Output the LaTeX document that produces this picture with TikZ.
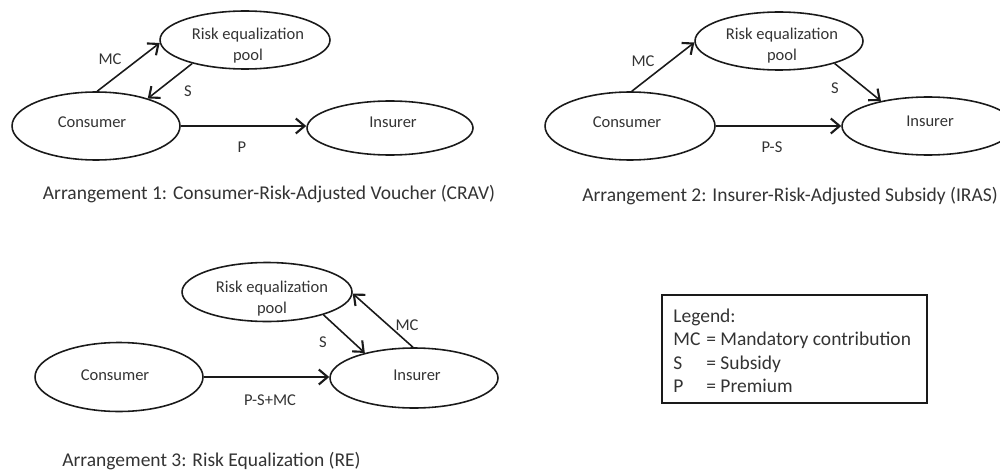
\documentclass[tikz,border=0pt]{standalone}
\usepackage{fontspec}
\setmainfont{Carlito}
\usetikzlibrary{shapes.geometric,arrows.meta}
\definecolor{ink}{HTML}{1A1A1A}
\definecolor{txt}{HTML}{333333}
\begin{document}
\begin{tikzpicture}[x=0.02cm,y=-0.02cm,
  oval/.style={ellipse, draw=ink, line width=0.9pt, inner sep=0pt},
  lbl/.style={text=txt, font=\fontsize{9.4}{11.5}\selectfont, inner sep=0pt, anchor=base},
  captxt/.style={text=txt, font=\fontsize{11.1}{13}\selectfont, inner sep=0pt, anchor=base},
  flow/.style={draw=ink, line width=0.9pt, -{Straight Barb[length=5pt,width=8.5pt,line width=1.2pt]}},
  legbox/.style={draw=ink, line width=0.9pt, inner sep=0pt}
]
\useasboundingbox (0,0) rectangle (1000,473);

% ---------- Arrangement 1 ----------
\node[oval, minimum width=3.36cm, minimum height=1.36cm] (C1) at (96,126) {};
\node[oval, minimum width=3.40cm, minimum height=1.16cm] (R1) at (245,40) {};
\node[oval, minimum width=3.32cm, minimum height=1.08cm] (I1) at (390,128) {};
\node[lbl] (C1t) at (92,128) {Consumer};
\node[lbl] (R1a) at (248,40) {Risk equalization};
\node[lbl] (R1b) at (248,61) {pool};
\node[lbl] (I1t) at (393,128) {Insurer};
\draw[flow] (C1.88) -- (R1.182);
\draw[flow] (R1.204) -- (C1.28);
\draw[flow] (C1.east) -- (C1.east -| I1.west);
\node[lbl] (MC1) at (110,65) {MC};
\node[lbl] (S1) at (188,96) {S};
\node[lbl] (P1) at (242,153) {P};
\node[captxt] (cap1) at (269,199) {Arrangement 1: Consumer-Risk-Adjusted Voucher (CRAV)};

% ---------- Arrangement 2 ----------
\node[oval, minimum width=3.40cm, minimum height=1.36cm] (C2) at (630,126) {};
\node[oval, minimum width=3.36cm, minimum height=1.16cm] (R2) at (779,41) {};
\node[oval, minimum width=3.44cm, minimum height=1.16cm] (I2) at (928,126) {};
\node[lbl] (C2t) at (627,128) {Consumer};
\node[lbl] (R2a) at (782,40) {Risk equalization};
\node[lbl] (R2b) at (782,61) {pool};
\node[lbl] (I2t) at (930,127) {Insurer};
\draw[flow] (C2.87) -- (R2.181);
\draw[flow] (R2.338) -- (I2.152);
\draw[flow] (C2.east) -- (C2.east -| I2.west);
\node[lbl] (MC2) at (643,67) {MC};
\node[lbl] (S2) at (835,93) {S};
\node[lbl] (PS2) at (772,153) {P-S};
\node[captxt, anchor=base west] (cap2) at (582,201) {Arrangement 2: Insurer-Risk-Adjusted Subsidy (IRAS)};

% ---------- Arrangement 3 ----------
\node[oval, minimum width=3.36cm, minimum height=1.38cm] (C3) at (119,377) {};
\node[oval, minimum width=3.40cm, minimum height=1.18cm] (R3) at (267,292) {};
\node[oval, minimum width=3.36cm, minimum height=1.20cm] (I3) at (414,378) {};
\node[lbl] (C3t) at (115,380) {Consumer};
\node[lbl] (R3a) at (272,292) {Risk equalization};
\node[lbl] (R3b) at (272,313) {pool};
\node[lbl] (I3t) at (417,380) {Insurer};
\draw[flow] (R3.338) -- (I3.153);
\draw[flow] (I3.92) -- (R3.359);
\draw[flow] (C3.east) -- (C3.east -| I3.west);
\node[lbl] (S3) at (323,347) {S};
\node[lbl] (MC3) at (407,330) {MC};
\node[lbl] (PSM) at (270,405) {P-S+MC};
\node[captxt, anchor=base west] (cap3) at (62,466) {Arrangement 3: Risk Equalization (RE)};

% ---------- Legend ----------
\node[legbox, minimum width=5.30cm, minimum height=2.16cm] (leg) at (794.5,349) {};
\node[captxt, anchor=base west] (L0) at (673,322) {Legend:};
\node[captxt, anchor=base west] (L1a) at (673,345) {MC};
\node[captxt, anchor=base west] (L1b) at (706,345) {= Mandatory contribution};
\node[captxt, anchor=base west] (L2a) at (673,369) {S};
\node[captxt, anchor=base west] (L2b) at (706,369) {= Subsidy};
\node[captxt, anchor=base west] (L3a) at (673,392) {P};
\node[captxt, anchor=base west] (L3b) at (706,392) {= Premium};
\end{tikzpicture}
\end{document}
